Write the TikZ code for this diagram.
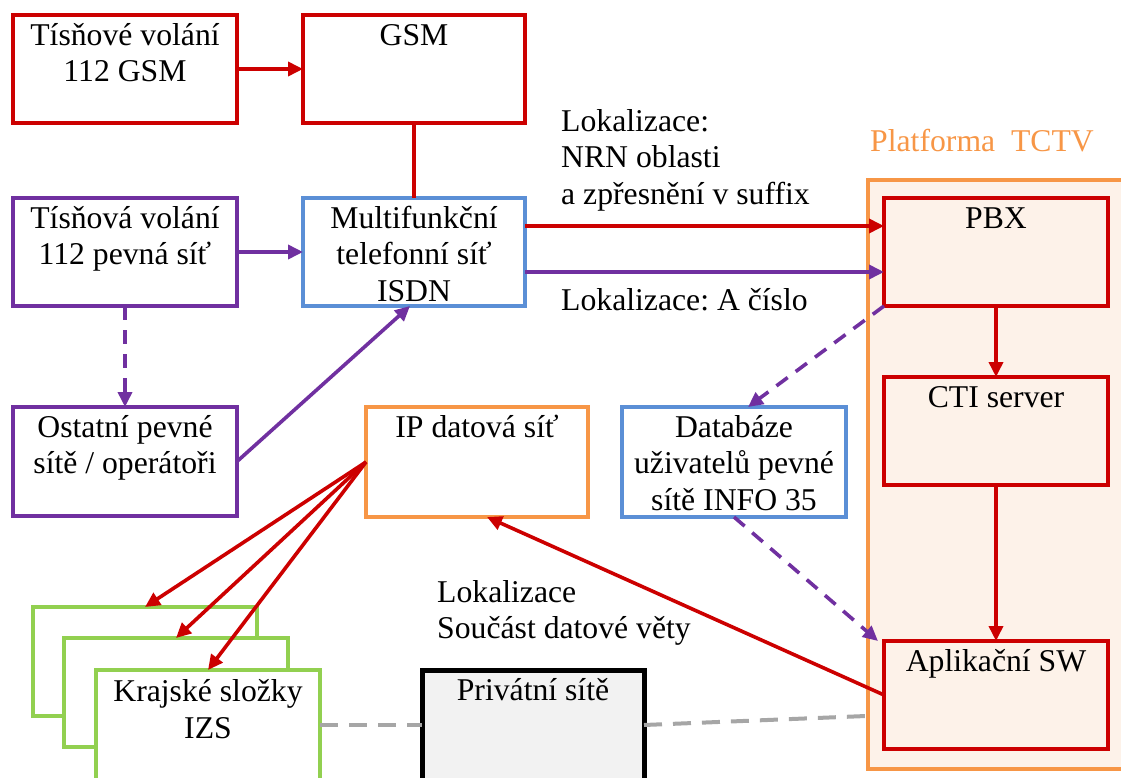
\documentclass[tikz,border=0pt]{standalone}
\usepackage{fontspec}
\setmainfont{Liberation Serif}
\usetikzlibrary{arrows.meta}
\definecolor{cred}{HTML}{CC0000}
\definecolor{cpur}{HTML}{7030A0}
\definecolor{cblue}{HTML}{5B8FD6}
\definecolor{cgreen}{HTML}{92D050}
\definecolor{corange}{HTML}{F79646}
\definecolor{cpeach}{HTML}{FDF2E9}
\definecolor{cgray}{HTML}{A6A6A6}
\definecolor{cprivfill}{HTML}{F2F2F2}
\frenchspacing
\begin{document}
\begin{tikzpicture}[x=1pt,y=-1pt,
  font=\fontsize{31.7}{36.5}\selectfont,
  bx/.style={draw, line width=3.8pt, inner sep=0pt, outer sep=0pt,
    anchor=north west, fill=white, minimum width=224pt, minimum height=108pt},
  lbl/.style={anchor=north, inner sep=0pt, align=center, yshift=-4.5pt},
  free/.style={anchor=north west, inner sep=0pt, align=left},
  conn/.style={line width=3.6pt},
  tip/.style={-{Triangle[length=15pt,width=14pt]}},
  purdash/.style={conn, cpur, dash pattern=on 14pt off 10pt},
  graydash/.style={line width=4pt, cgray, dash pattern=on 18pt off 11pt}]

\useasboundingbox (0,0) rectangle (1121,778);
\clip (0,0) rectangle (1121,778);

% TCTV platform frame
\node[draw=corange, fill=cpeach, line width=3.8pt, inner sep=0pt, anchor=north west,
  minimum width=270pt, minimum height=589pt] (plat) at (866,178) {};
\node[anchor=base west, inner sep=0pt, text=corange] (platt) at (870,152) {Platforma\ \ TCTV};

% boxes
\node[bx, draw=cred] (tgsm) at (13,15) {};
\node[bx, draw=cred, minimum width=222pt] (gsm) at (303,15) {};
\node[bx, draw=cpur] (tpev) at (13,198) {};
\node[bx, draw=cblue, minimum width=222pt] (isdn) at (303,198) {};
\node[bx, draw=cpur, minimum height=109pt] (ostat) at (13,407) {};
\node[bx, draw=corange, minimum width=222pt, minimum height=110pt] (ipnet) at (366,407) {};
\node[bx, draw=cblue, minimum height=110pt] (db) at (622,407) {};
\node[bx, draw=cred, fill=cpeach] (pbx) at (884,198) {};
\node[bx, draw=cred, fill=cpeach] (cti) at (884,377) {};
\node[bx, draw=cred, fill=cpeach] (app) at (884,641) {};
\node[bx, draw=cgreen, minimum height=109pt] (kraj1) at (33,607) {};
\node[bx, draw=cgreen, minimum height=109pt] (kraj2) at (64,638) {};
\node[bx, draw=cgreen, minimum height=110pt] (kraj3) at (96,670) {};
\node[bx, draw=black, line width=5pt, fill=cprivfill, minimum width=222pt, minimum height=120pt] (priv) at (422,670) {};

% box texts
\node[lbl] (tgsm-t) at (tgsm.north) {\strut Tísňové volání\\112 GSM};
\node[lbl] (gsm-t) at (gsm.north) {\strut GSM};
\node[lbl] (tpev-t) at (tpev.north) {\strut Tísňová volání\\112 pevná síť};
\node[lbl] (isdn-t) at (isdn.north) {\strut Multifunkční\\telefonní síť\\ISDN};
\node[lbl] (ostat-t) at (ostat.north) {\strut Ostatní pevné\\sítě / operátoři};
\node[lbl] (ipnet-t) at (ipnet.north) {\strut IP datová síť};
\node[lbl] (db-t) at (db.north) {\strut Databáze\\uživatelů pevné\\sítě INFO 35};
\node[lbl] (pbx-t) at (pbx.north) {\strut PBX};
\node[lbl] (cti-t) at (cti.north) {\strut CTI server};
\node[lbl] (app-t) at (app.north) {\strut Aplikační SW};
\node[lbl, yshift=-1.5pt] (kraj-t) at (kraj3.north) {\strut Krajské složky\\IZS};
\node[lbl] (priv-t) at (priv.north) {\strut Privátní sítě};

% free labels
\node[free] (loc1) at (561,105.5) {\strut Lokalizace:\\NRN oblasti\\a zpřesnění v suffix};
\node[anchor=base west, inner sep=0pt] (loc2) at (561,310) {Lokalizace: A číslo};
\node[free] (loc3) at (437,576.5) {\strut Lokalizace\\Součást datové věty};

% connectors
\draw[conn, cred, tip] (tgsm) -- (gsm);
\draw[conn, cred] (gsm) -- (isdn);
\draw[conn, cpur, tip] (tpev) -- (isdn);
\coordinate (r1) at ([yshift=26pt]isdn.east);
\coordinate (p1) at ([yshift=-20pt]isdn.east);
\draw[conn, cred, tip] (r1) -- (r1 -| pbx.west);
\draw[conn, cpur, tip] (p1) -- (p1 -| pbx.west);
\draw[purdash, tip] (tpev) -- (ostat);
\draw[conn, cpur, tip] (ostat.east) -- ([xshift=-4pt]isdn.south);
\draw[conn, cred, tip] (pbx) -- (cti);
\draw[conn, cred, tip] (cti) -- (app);
\draw[purdash, tip] (pbx.south west) -- ([xshift=14pt]db.north);
\draw[purdash, tip] (db.south) -- ([xshift=-6pt]app.north west);
\draw[conn, cred, tip] (app.west) -- ([xshift=10pt]ipnet.south);
\draw[conn, cred, tip] (ipnet.west) -- (kraj1.north);
\draw[conn, cred, tip] (ipnet.west) -- (kraj2.north);
\draw[conn, cred, tip] (ipnet.west) -- (kraj3.north);
\draw[graydash] (kraj3.east) -- (kraj3.east -| priv.west);
\path (app.west -| plat.west) ++(0,21) coordinate (pj);
\draw[graydash] (kraj3.east -| priv.east) -- (pj);
\end{tikzpicture}
\end{document}
